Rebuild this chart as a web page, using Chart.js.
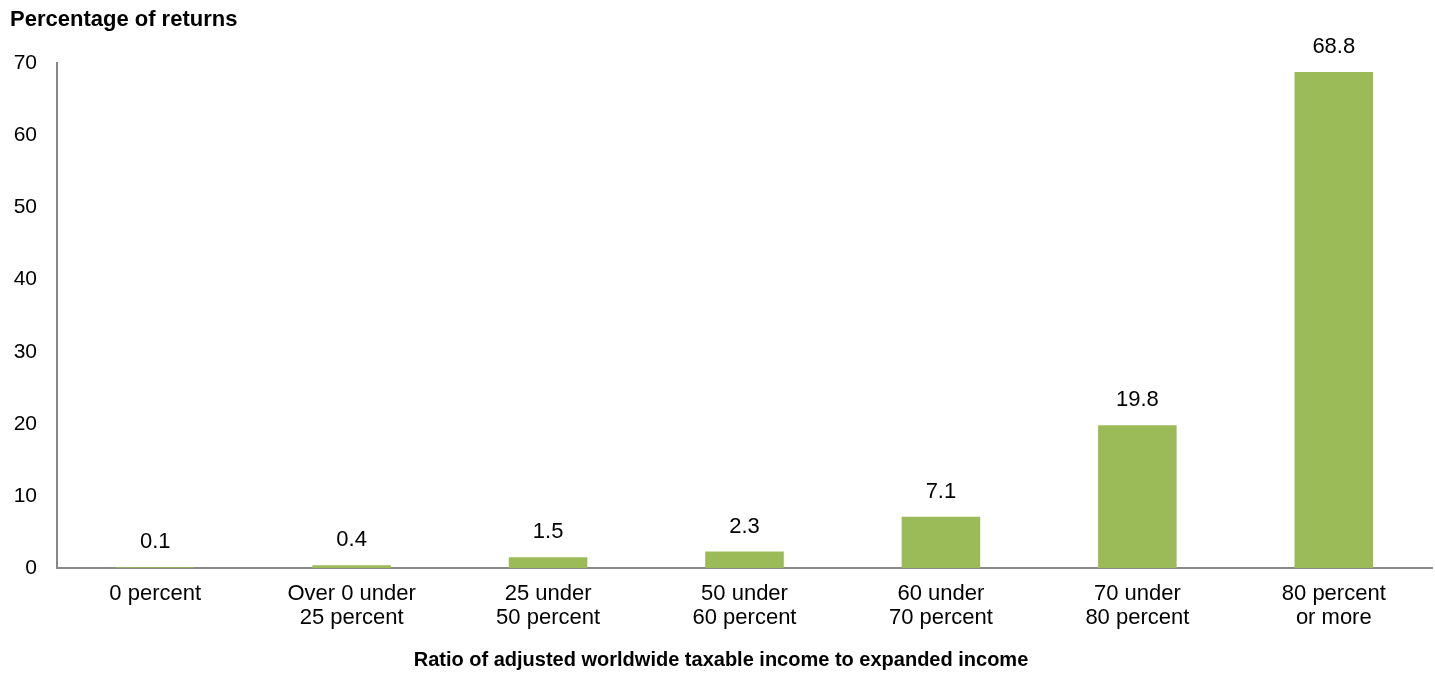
<!DOCTYPE html>
<html lang="en">
<head>
<meta charset="UTF-8">
<title>Percentage of returns</title>
<script src="https://cdn.jsdelivr.net/npm/chart.js@4/dist/chart.umd.min.js"></script>
<style>
  * { margin: 0; padding: 0; }
  body { background: #fff; width: 1435px; height: 692px; overflow: hidden; }
</style>
</head>
<body>
<canvas id="chart" width="1435" height="692"></canvas>
<script>
const CATEGORIES = [
  ['0 percent'],
  ['Over 0 under', '25 percent'],
  ['25 under', '50 percent'],
  ['50 under', '60 percent'],
  ['60 under', '70 percent'],
  ['70 under', '80 percent'],
  ['80 percent', 'or more'],
];
const VALUES = [0.1, 0.4, 1.5, 2.3, 7.1, 19.8, 68.8];
const Y_MIN = 0;
const Y_MAX = 70;
const Y_STEP = 10;

const FONT = "'Liberation Sans', Arial, sans-serif";
const BAR_COLOR = '#9BBB59';
const AXIS_COLOR = '#898989';

// value labels above each bar
const barLabels = {
  id: 'barLabels',
  afterDatasetsDraw(chart) {
    const ctx = chart.ctx;
    const meta = chart.getDatasetMeta(0);
    ctx.save();
    ctx.font = '22px ' + FONT;
    ctx.fillStyle = '#000';
    ctx.textAlign = 'center';
    ctx.textBaseline = 'middle';
    meta.data.forEach((bar, i) => {
      ctx.fillText(VALUES[i].toFixed(1), bar.x, bar.y - 25);
    });
    ctx.restore();
  }
};

new Chart(document.getElementById('chart'), {
  type: 'bar',
  data: {
    labels: CATEGORIES,
    datasets: [{
      data: VALUES,
      backgroundColor: BAR_COLOR,
      barPercentage: 0.4,
      categoryPercentage: 1.0,
    }],
  },
  options: {
    responsive: false,
    animation: false,
    layout: { padding: { left: 10, right: 3, top: 0, bottom: 18 } },
    plugins: {
      legend: { display: false },
      tooltip: { enabled: false },
      title: {
        display: true,
        text: 'Percentage of returns',
        align: 'start',
        color: '#000',
        font: { family: FONT, size: 22, weight: 'bold', lineHeight: 1.2 },
        padding: { top: 7, bottom: 30 },
      },
      // x axis title, centred on the whole page like the original
      subtitle: {
        display: true,
        position: 'bottom',
        text: 'Ratio of adjusted worldwide taxable income to expanded income',
        color: '#000',
        font: { family: FONT, size: 20, weight: 'bold', lineHeight: 1.2 },
        padding: { top: 4, bottom: 2 },
      },
    },
    scales: {
      x: {
        grid: { display: false, drawTicks: false },
        border: { color: AXIS_COLOR, width: 2 },
        ticks: {
          color: '#000',
          font: { family: FONT, size: 22, lineHeight: 1.09 },
          padding: 14,
          maxRotation: 0,
          autoSkip: false,
        },
      },
      y: {
        min: Y_MIN,
        max: Y_MAX,
        grid: { display: false, drawTicks: false },
        border: { color: AXIS_COLOR, width: 2 },
        afterFit(scale) { scale.width = 47; },
        ticks: {
          stepSize: Y_STEP,
          color: '#000',
          font: { family: FONT, size: 21 },
          padding: 20,
        },
      },
    },
  },
  plugins: [barLabels],
});
</script>
</body>
</html>
